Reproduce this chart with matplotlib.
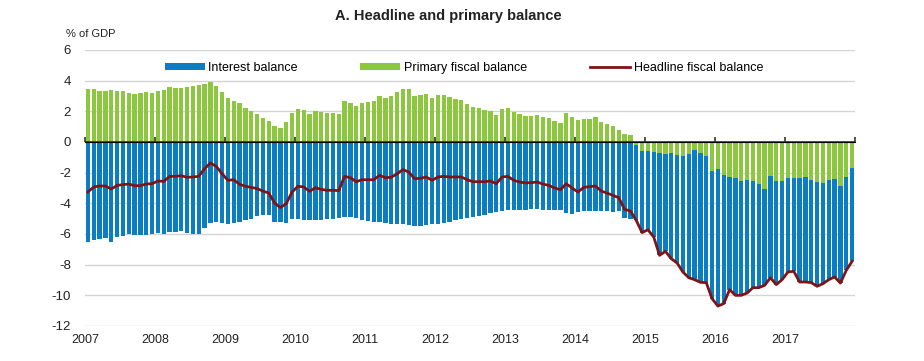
import numpy as np
import matplotlib
matplotlib.use('Agg')
import matplotlib.pyplot as plt

plt.rcParams['font.family'] = ['Liberation Sans', 'DejaVu Sans']
plt.rcParams['axes.unicode_minus'] = False

# monthly data, Jan 2007 - Dec 2017, % of GDP
primary = [
    3.43, 3.43, 3.35, 3.35, 3.39, 3.33, 3.33, 3.2, 3.15, 3.17, 3.28, 3.2,
    3.33, 3.37, 3.57, 3.54, 3.54, 3.57, 3.67, 3.7, 3.78, 3.93, 3.63, 3.26,
    2.85, 2.7, 2.52, 2.22, 2.02, 1.8, 1.54, 1.39, 1.02, 0.89, 1.3, 1.87,
    2.13, 2.09, 1.83, 2.04, 1.98, 1.91, 1.87, 1.83, 2.7, 2.54, 2.33, 2.57,
    2.61, 2.65, 2.98, 2.89, 3.02, 3.24, 3.48, 3.46, 2.98, 3.07, 3.11, 2.89,
    3.07, 3.07, 2.93, 2.8, 2.72, 2.5, 2.28, 2.22, 2.07, 2.02, 1.74, 2.13,
    2.2, 1.96, 1.8, 1.67, 1.7, 1.74, 1.65, 1.57, 1.39, 1.24, 1.89, 1.65,
    1.46, 1.52, 1.52, 1.63, 1.33, 1.2, 1.04, 0.8, 0.5, 0.43, -0.2, -0.59,
    -0.59, -0.65, -0.72, -0.76, -0.7, -0.83, -0.91, -0.8, -0.5, -0.74, -0.93, -1.91,
    -1.78, -2.13, -2.28, -2.33, -2.52, -2.5, -2.57, -2.76, -3.09, -2.24, -2.54, -2.52,
    -2.35, -2.35, -2.35, -2.3, -2.5, -2.63, -2.67, -2.5, -2.41, -2.89, -2.3, -1.7,
]
interest = [
    -6.5, -6.37, -6.33, -6.28, -6.54, -6.22, -6.15, -5.98, -6.04, -6.09, -6.04, -5.98,
    -5.91, -5.98, -5.85, -5.85, -5.8, -5.93, -5.98, -5.98, -5.59, -5.28, -5.22, -5.3,
    -5.33, -5.26, -5.22, -5.11, -5.0, -4.83, -4.76, -4.76, -5.2, -5.24, -5.28, -5.04,
    -5.04, -5.09, -5.09, -5.09, -5.09, -5.04, -5.02, -4.98, -4.89, -4.89, -4.93, -5.07,
    -5.13, -5.2, -5.22, -5.28, -5.33, -5.33, -5.37, -5.41, -5.46, -5.46, -5.41, -5.37,
    -5.35, -5.28, -5.22, -5.11, -5.0, -4.93, -4.89, -4.83, -4.76, -4.61, -4.54, -4.48,
    -4.46, -4.46, -4.43, -4.41, -4.37, -4.37, -4.41, -4.46, -4.46, -4.46, -4.65, -4.72,
    -4.59, -4.52, -4.52, -4.5, -4.52, -4.52, -4.57, -4.5, -4.96, -5.0, -4.91, -5.32,
    -5.13, -5.55, -6.67, -6.37, -6.91, -7.06, -7.57, -8.05, -8.48, -8.41, -8.24, -8.31,
    -8.92, -8.41, -7.35, -7.67, -7.48, -7.35, -6.93, -6.74, -6.26, -6.61, -6.76, -6.46,
    -6.13, -6.08, -6.78, -6.83, -6.67, -6.78, -6.57, -6.48, -6.39, -6.31, -6.07, -6.08,
]
headline = [
    -3.26, -2.93, -2.87, -2.87, -3.07, -2.83, -2.78, -2.74, -2.85, -2.85, -2.74, -2.72,
    -2.54, -2.57, -2.24, -2.24, -2.2, -2.3, -2.28, -2.24, -1.74, -1.37, -1.59, -2.07,
    -2.5, -2.46, -2.76, -2.89, -2.96, -3.04, -3.2, -3.33, -3.98, -4.28, -4.02, -3.26,
    -2.89, -2.93, -3.22, -2.98, -3.09, -3.15, -3.15, -3.17, -2.24, -2.33, -2.59, -2.46,
    -2.46, -2.46, -2.17, -2.33, -2.3, -2.07, -1.8, -1.96, -2.39, -2.37, -2.28, -2.5,
    -2.28, -2.24, -2.28, -2.28, -2.28, -2.46, -2.59, -2.59, -2.59, -2.54, -2.72, -2.28,
    -2.24, -2.5, -2.61, -2.67, -2.65, -2.61, -2.74, -2.83, -3.0, -3.11, -2.72, -3.0,
    -3.26, -2.96, -2.91, -2.87, -3.2, -3.33, -3.48, -3.63, -4.39, -4.5, -5.11, -5.91,
    -5.72, -6.2, -7.39, -7.13, -7.61, -7.89, -8.48, -8.85, -8.98, -9.15, -9.17, -10.22,
    -10.7, -10.54, -9.63, -10.0, -10.0, -9.85, -9.5, -9.5, -9.35, -8.85, -9.3, -8.98,
    -8.48, -8.43, -9.13, -9.13, -9.17, -9.41, -9.24, -8.98, -8.8, -9.2, -8.37, -7.78,
]
years = [str(y) for y in range(2007, 2018)]

primary = np.array(primary)
interest = np.array(interest)
headline = np.array(headline)
x = np.arange(len(primary)) + 0.5

blue = '#0b7dc3'
green = '#8dc63f'
red = '#7f1416'

fig = plt.figure(figsize=(9.24, 3.61), dpi=100)
ax = fig.add_axes([85/924, 1 - 326/361, 770/924, 276/361])

b1 = ax.bar(x, interest, width=0.72, bottom=np.minimum(primary, 0), color=blue,
            label='Interest balance', zorder=2)
b2 = ax.bar(x, primary, width=0.72, color=green, label='Primary fiscal balance', zorder=2)
l1, = ax.plot(x, headline, color=red, lw=2, label='Headline fiscal balance', zorder=4)

ax.set_xlim(0, len(primary))
ax.set_ylim(-12, 6)
ax.set_yticks(np.arange(-12, 7, 2))
ax.yaxis.grid(True, color='#d4d4d4', lw=1)
ax.set_axisbelow(True)
for s in ax.spines.values():
    s.set_visible(False)
ax.tick_params(axis='y', length=0, labelsize=9.5, pad=10, colors='#222222')

ax.set_xticks(np.arange(0, 121, 12))
ax.set_xticklabels(years)
ax.tick_params(axis='x', length=0, labelsize=9, pad=6, colors='#222222')

# zero axis with small year ticks pointing up
ax.axhline(0, color='#333333', lw=1.2, zorder=3)
sec = ax.secondary_xaxis(12 / 18)
sec.set_xticks(np.arange(0, 133, 12))
sec.set_xticklabels([])
sec.tick_params(direction='out', length=3.5, width=1.2, color='#333333')
sec.spines['bottom'].set_visible(False)
sec.set_zorder(5)

ax.legend([b1, b2, l1], ['Interest balance', 'Primary fiscal balance', 'Headline fiscal balance'],
          loc='upper left', bbox_to_anchor=(0.097, 0.975), ncol=3, frameon=False,
          fontsize=9, handlelength=3.2, handleheight=0.6, columnspacing=5.0,
          handletextpad=0.3, borderaxespad=0)

fig.text(0.485, 0.955, 'A. Headline and primary balance', ha='center', va='center',
         fontsize=10.5, fontweight='bold', color='#222222')
fig.text(66/924, 0.905, '% of GDP', ha='left', va='center', fontsize=8, color='#222222')

fig.savefig('out.png', dpi=100)
